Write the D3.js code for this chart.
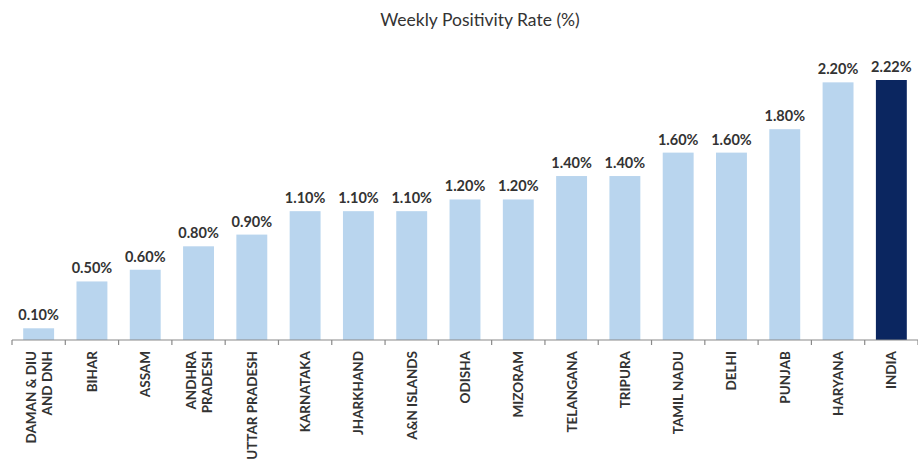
<!DOCTYPE html>
<html>
<head>
<meta charset="utf-8">
<script src="https://cdn.jsdelivr.net/npm/d3@7"></script>
<style>
  body { margin: 0; background: #fff; }
  text { font-family: Lato, "Open Sans", sans-serif; }
</style>
</head>
<body>
<div class="plot"></div>
<script>
// weekly positivity rate by state

var states = ["DAMAN & DIU|AND DNH", "BIHAR", "ASSAM", "ANDHRA|PRADESH", "UTTAR PRADESH",
  "KARNATAKA", "JHARKHAND", "A&N ISLANDS", "ODISHA", "MIZORAM", "TELANGANA",
  "TRIPURA", "TAMIL NADU", "DELHI", "PUNJAB", "HARYANA", "INDIA"];
var rates = [0.10, 0.50, 0.60, 0.80, 0.90, 1.10, 1.10, 1.10, 1.20, 1.20, 1.40,
  1.40, 1.60, 1.60, 1.80, 2.20, 2.22];

var svgWidth = 918;
var svgHeight = 470;

var margin = { top: 80, right: 0, bottom: 130, left: 12 };
var width = svgWidth - margin.left - margin.right;
var height = svgHeight - margin.top - margin.bottom;

var svg = d3.select(".plot")
  .append("svg")
  .attr("width", svgWidth)
  .attr("height", svgHeight);

svg.append("text")
  .attr("x", 480)
  .attr("y", 26)
  .attr("text-anchor", "middle")
  .style("font-size", "17.5px")
  .style("fill", "#333")
  .text("Weekly Positivity Rate (%)");

var chartGroup = svg.append("g")
  .attr("transform", `translate(${margin.left}, ${margin.top})`);

var xScale = d3.scaleBand()
  .domain(states)
  .range([0, width])
  .paddingInner(0.42)
  .paddingOuter(0.21);

var yScale = d3.scaleLinear()
  .domain([0, 2.22])
  .range([height, 0]);

// bars
chartGroup.selectAll("rect")
  .data(states)
  .enter()
  .append("rect")
  .attr("x", d => xScale(d))
  .attr("y", (d, i) => yScale(rates[i]))
  .attr("width", xScale.bandwidth())
  .attr("height", (d, i) => height - yScale(rates[i]))
  .attr("fill", d => d === "INDIA" ? "#0b2660" : "#b9d5ee");

// value labels
chartGroup.selectAll(".val")
  .data(states)
  .enter()
  .append("text")
  .attr("class", "val")
  .attr("x", d => xScale(d) + xScale.bandwidth() / 2)
  .attr("y", (d, i) => yScale(rates[i]) - 8)
  .attr("text-anchor", "middle")
  .style("font-size", "14.5px")
  .style("font-weight", "bold")
  .style("fill", "#333")
  .text((d, i) => rates[i].toFixed(2) + "%");

// axis line and separators between categories
var edges = d3.range(states.length + 1).map(i => i * width / states.length);

chartGroup.append("line")
  .attr("x1", 0).attr("x2", width)
  .attr("y1", height).attr("y2", height)
  .attr("stroke", "#8a8a8a")
  .attr("stroke-width", 1.2);

chartGroup.selectAll(".sep")
  .data(edges)
  .enter()
  .append("line")
  .attr("class", "sep")
  .attr("x1", d => d).attr("x2", d => d)
  .attr("y1", height).attr("y2", height + 5)
  .attr("stroke", "#8a8a8a")
  .attr("stroke-width", 1.2);

// rotated category labels
var labels = chartGroup.selectAll(".cat")
  .data(states)
  .enter()
  .append("text")
  .attr("class", "cat")
  .attr("transform", d => `translate(${xScale(d) + xScale.bandwidth() / 2}, ${height + 11}) rotate(-90)`)
  .attr("text-anchor", "end")
  .style("font-size", "13.5px")
  .style("font-weight", "bold")
  .style("fill", "#333");

labels.each(function(d) {
  var parts = d.split("|");
  var t = d3.select(this);
  parts.forEach((p, j) => {
    t.append("tspan")
      .attr("x", 0)
      .attr("y", (j - (parts.length - 1) / 2) * 16 + 5)
      .text(p);
  });
});
</script>
</body>
</html>
